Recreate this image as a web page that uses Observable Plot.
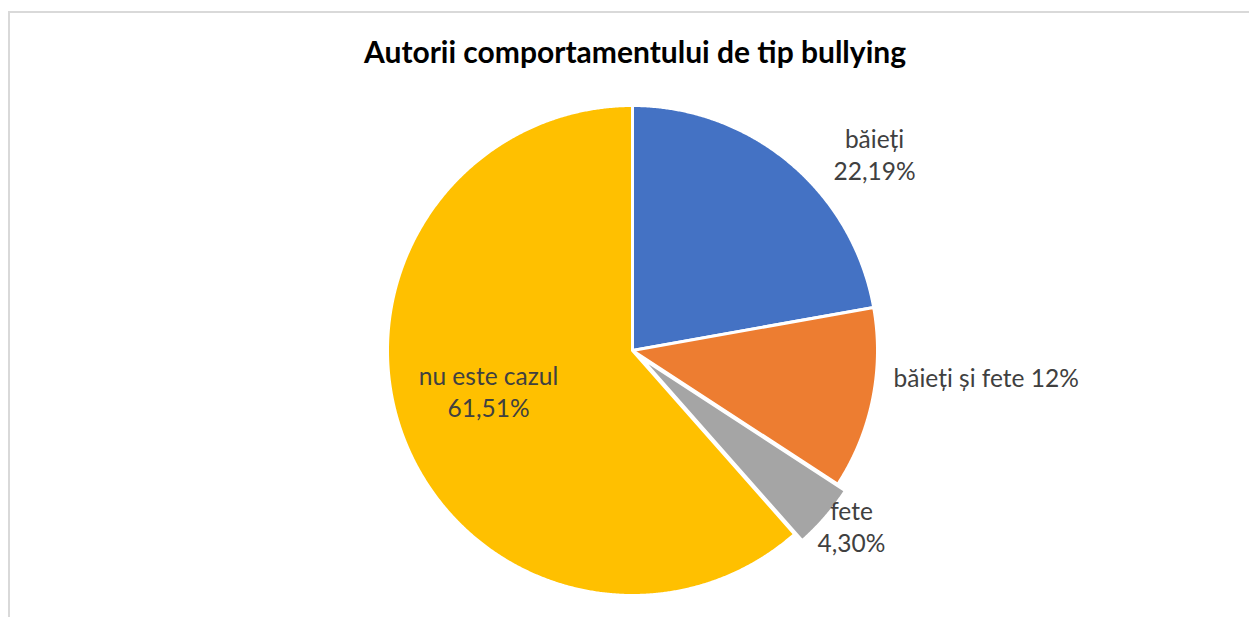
<!DOCTYPE html>
<html><head><meta charset="utf-8">
<script src="https://cdn.jsdelivr.net/npm/d3@7"></script>
<script src="https://cdn.jsdelivr.net/npm/@observablehq/plot@0.6"></script>
<style>
html,body{margin:0;padding:0;background:#fff;overflow:hidden;width:1249px;height:617px}
#frame{position:absolute;left:8px;top:11px;width:1300px;height:700px;border:2px solid #d9d9d9;box-sizing:border-box}
#title{position:absolute;left:0;width:1270px;top:33px;text-align:center;font-family:Lato,"Open Sans",sans-serif;font-weight:bold;font-size:30px;color:#000;line-height:36px}
#chart{position:absolute;left:0;top:80px}
</style></head><body>
<div id="frame"></div>
<div id="title">Autorii comportamentului de tip bullying</div>
<div id="chart"></div>
<script>
// ---- data ----
const categories = ["băieți", "băieți și fete", "fete", "nu este cazul"];
const values = [22.19, 12, 4.30, 61.51];
const percentLabels = ["22,19%", "12%", "4,30%", "61,51%"];
const colors = ["#4472C4", "#ED7D31", "#A5A5A5", "#FFC000"];

// ---- layout (not data) ----
const W = 1249, H = 537;
const CX = 632, CY = 270, R = 245;
const explode = [0, 0, 10, 0];
const labelLayout = [
  {dx: 242, dy: -197, anchor: "middle", sep: "\n"},
  {dx: 261, dy: 29, anchor: "start", sep: " "},
  {dx: 219, dy: 175, anchor: "middle", sep: "\n"},
  {dx: -144, dy: 40, anchor: "middle", sep: "\n"}
];

const arcs = d3.pie().sort(null).value(d => d)(values);
const pts = [];
arcs.forEach((a, i) => {
  const mid = (a.startAngle + a.endAngle) / 2;
  const ox = explode[i] * Math.sin(mid), oy = explode[i] * Math.cos(mid);
  pts.push({cat: categories[i], x: ox, y: oy});
  const n = Math.max(2, Math.ceil((a.endAngle - a.startAngle) / 0.005));
  for (let k = 0; k <= n; k++) {
    const t = a.startAngle + (a.endAngle - a.startAngle) * k / n;
    pts.push({cat: categories[i], x: ox + R * Math.sin(t), y: oy + R * Math.cos(t)});
  }
});
const labels = categories.map((c, i) => ({
  text: c + labelLayout[i].sep + percentLabels[i],
  x: labelLayout[i].dx, y: -labelLayout[i].dy, anchor: labelLayout[i].anchor
}));

const chart = Plot.plot({
  width: W, height: H,
  margin: 0,
  x: {domain: [-CX, W - CX], axis: null},
  y: {domain: [-(H - CY), CY], axis: null},
  color: {domain: categories, range: colors},
  style: {fontFamily: "Lato, 'Open Sans', sans-serif", background: "transparent"},
  marks: [
    Plot.line(pts, {x: "x", y: "y", z: "cat", fill: "cat", stroke: "white", strokeWidth: 3, strokeLinejoin: "round", curve: "linear-closed"}),
    Plot.text(labels.filter(d => d.anchor === "middle"), {x: "x", y: "y", text: "text", fill: "#404040", fontSize: 24.5, lineHeight: 1.3, lineAnchor: "middle", textAnchor: "middle"}),
    Plot.text(labels.filter(d => d.anchor === "start"), {x: "x", y: "y", text: "text", fill: "#404040", fontSize: 24.5, lineAnchor: "middle", textAnchor: "start"})
  ]
});
document.getElementById("chart").appendChild(chart);
</script>
</body></html>
